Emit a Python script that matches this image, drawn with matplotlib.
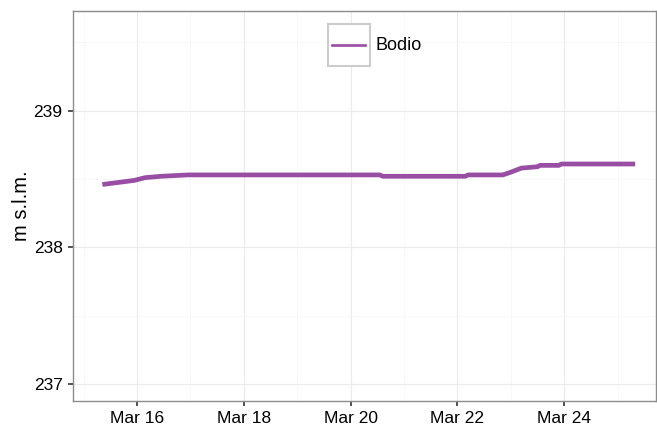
import matplotlib
matplotlib.use("Agg")
import matplotlib.pyplot as plt
import matplotlib.dates as mdates
from matplotlib.patches import Rectangle
from matplotlib.lines import Line2D
from matplotlib.legend_handler import HandlerBase
import pandas as pd

plt.rcParams['font.family'] = ['Liberation Sans', 'DejaVu Sans']

# Data (day-of-March, level in m s.l.m.)
days = [15.35, 15.55, 15.75, 15.95, 16.15, 16.45, 16.95, 20.55, 20.60, 22.15,
        22.20, 22.85, 23.00, 23.20, 23.50, 23.55, 23.90, 23.95, 25.33]
levels = [238.46, 238.47, 238.48, 238.49, 238.51, 238.52, 238.53, 238.53, 238.52, 238.52,
          238.53, 238.53, 238.55, 238.58, 238.59, 238.60, 238.60, 238.61, 238.61]
series_name = "Bodio"
y_ticks = [237, 238, 239]

base = pd.Timestamp("2017-03-01")
times = [base + pd.Timedelta(days=d - 1) for d in days]

fig = plt.figure(figsize=(6.57, 4.25), dpi=100)
ax = fig.add_axes([73/657, 1 - 401/425, (656 - 73)/657, (401 - 11)/425])

line, = ax.plot(times, levels, color='#984EA3', lw=3.4, solid_capstyle='butt')

ax.set_xlim(base + pd.Timedelta(days=14.80 - 1), base + pd.Timedelta(days=25.72 - 1))
ax.set_ylim(236.875, 239.73)
ax.set_yticks(y_ticks)
ax.set_yticks([237.5, 238.5, 239.5], minor=True)
ax.yaxis.set_major_formatter(matplotlib.ticker.FormatStrFormatter('%d'))

ax.xaxis.set_major_locator(mdates.DayLocator(bymonthday=[16, 18, 20, 22, 24]))
ax.xaxis.set_minor_locator(mdates.DayLocator(bymonthday=[15, 17, 19, 21, 23, 25]))
ax.xaxis.set_major_formatter(mdates.DateFormatter('%b %d'))

ax.grid(True, which='major', color='#EBEBEB', lw=0.8)
ax.grid(True, which='minor', color='#F5F5F5', lw=0.5)
ax.set_axisbelow(True)

for s in ax.spines.values():
    s.set_color('#8C8C8C')
    s.set_linewidth(1.0)

ax.tick_params(axis='both', which='major', length=3.5, width=1.2, color='#333333',
               labelsize=12.5, labelcolor='black', pad=4)
ax.tick_params(axis='both', which='minor', length=0)

ax.set_ylabel('m s.l.m.', fontsize=14.5, labelpad=2)
ax.yaxis.set_label_coords(-0.072, 0.5)


class KeyHandler(HandlerBase):
    def create_artists(self, legend, orig_handle, xdescent, ydescent,
                       width, height, fontsize, trans):
        x0, y0 = -xdescent, -ydescent
        rect = Rectangle((x0, y0), width, height, facecolor='white',
                         edgecolor='#CCCCCC', lw=1.5, transform=trans)
        ym = y0 + height / 2
        ln = Line2D([x0 + width * 0.1, x0 + width * 0.9], [ym, ym],
                    color=orig_handle.get_color(), lw=1.9, transform=trans)
        return [rect, ln]


leg = ax.legend([line], [series_name], handler_map={Line2D: KeyHandler()},
                loc='upper center', bbox_to_anchor=(0.5175, 0.998), frameon=False,
                fontsize=13, handlelength=2.3, handleheight=3.16, handletextpad=0.3,
                borderpad=0.2)

fig.savefig('out.png', dpi=100)
